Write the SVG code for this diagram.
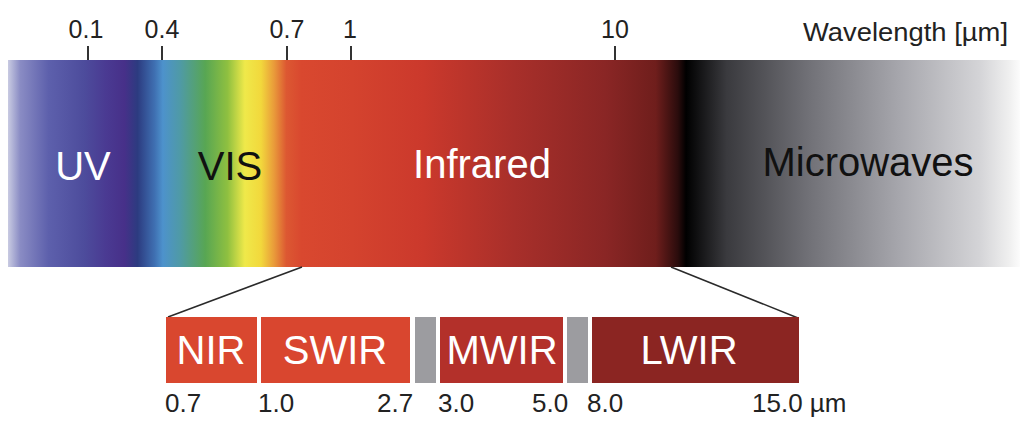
<svg xmlns="http://www.w3.org/2000/svg" width="1024" height="425" viewBox="0 0 1024 425">
  <style>
    .lbl { font-family: "Liberation Sans", Arial, sans-serif; fill: #222; }
    .big { font-family: "Liberation Sans", Arial, sans-serif; font-size: 40px; text-anchor: middle; }
    .tick { stroke: #333; stroke-width: 2; }
    .conn { stroke: #2a2a2a; stroke-width: 1.5; fill: none; }
    .white { fill: #ffffff; }
  </style>
  <defs>
    <linearGradient id="spec" gradientUnits="userSpaceOnUse" x1="8" y1="0" x2="1020" y2="0">
      <stop offset="0" stop-color="#c9cbe2"/>
      <stop offset="0.012" stop-color="#8a8cc4"/>
      <stop offset="0.04" stop-color="#5d60ac"/>
      <stop offset="0.075" stop-color="#4d4c9c"/>
      <stop offset="0.097" stop-color="#4a3a92"/>
      <stop offset="0.115" stop-color="#473089"/>
      <stop offset="0.128" stop-color="#2c3b80"/>
      <stop offset="0.145" stop-color="#3f70b2"/>
      <stop offset="0.153" stop-color="#4d92cc"/>
      <stop offset="0.170" stop-color="#4f9aa6"/>
      <stop offset="0.195" stop-color="#58a653"/>
      <stop offset="0.217" stop-color="#8fc040"/>
      <stop offset="0.234" stop-color="#efe94a"/>
      <stop offset="0.250" stop-color="#f2d83c"/>
      <stop offset="0.263" stop-color="#e99a3a"/>
      <stop offset="0.275" stop-color="#dc5832"/>
      <stop offset="0.290" stop-color="#d9482f"/>
      <stop offset="0.340" stop-color="#d4432e"/>
      <stop offset="0.410" stop-color="#cb392c"/>
      <stop offset="0.500" stop-color="#a82f2a"/>
      <stop offset="0.590" stop-color="#8a2625"/>
      <stop offset="0.640" stop-color="#6f1e1c"/>
      <stop offset="0.662" stop-color="#2a0c0c"/>
      <stop offset="0.670" stop-color="#000000"/>
      <stop offset="0.688" stop-color="#1a1a1c"/>
      <stop offset="0.710" stop-color="#3a3a3e"/>
      <stop offset="0.790" stop-color="#707076"/>
      <stop offset="0.880" stop-color="#a6a6ac"/>
      <stop offset="0.960" stop-color="#d4d4d7"/>
      <stop offset="0.990" stop-color="#f0f0f0"/>
      <stop offset="1" stop-color="#fcfcfc"/>
    </linearGradient>
  </defs>

  <g id="spectrum">
    <rect x="8" y="60" width="1012" height="207" fill="url(#spec)"/>
  </g>

  <g id="axis">
    <line class="tick" x1="88" y1="46" x2="88" y2="60"/>
    <line class="tick" x1="162" y1="46" x2="162" y2="60"/>
    <line class="tick" x1="287" y1="46" x2="287" y2="60"/>
    <line class="tick" x1="351" y1="46" x2="351" y2="60"/>
    <line class="tick" x1="615" y1="46" x2="615" y2="60"/>
    <g class="lbl" font-size="25" text-anchor="middle">
      <text x="86" y="38">0.1</text>
      <text x="162" y="38">0.4</text>
      <text x="287" y="38">0.7</text>
      <text x="350" y="38">1</text>
      <text x="615" y="38">10</text>
    </g>
    <text class="lbl" x="803" y="41" font-size="26" textLength="205" lengthAdjust="spacingAndGlyphs">Wavelength [µm]</text>
  </g>

  <g id="band-labels">
    <text class="big white" x="83" y="180">UV</text>
    <text class="big" x="230" y="180" fill="#111">VIS</text>
    <text class="big white" x="482" y="178">Infrared</text>
    <text class="big" x="868" y="176" fill="#111">Microwaves</text>
  </g>

  <g id="connectors">
    <line class="conn" x1="302" y1="267" x2="168" y2="317"/>
    <line class="conn" x1="671" y1="267" x2="798" y2="318"/>
  </g>

  <g id="NIR">
    <rect x="166" y="317" width="91" height="66" fill="#d9472f"/>
    <text class="big white" x="211" y="364">NIR</text>
  </g>
  <g id="SWIR">
    <rect x="261" y="317" width="149" height="66" fill="#d9462f"/>
    <text class="big white" x="335" y="364">SWIR</text>
  </g>
  <g id="gap1">
    <rect x="415" y="317" width="21" height="66" fill="#9c9ca0"/>
  </g>
  <g id="MWIR">
    <rect x="440" y="317" width="123" height="66" fill="#b3302a"/>
    <text class="big white" x="502" y="364">MWIR</text>
  </g>
  <g id="gap2">
    <rect x="567" y="317" width="21" height="66" fill="#9c9ca0"/>
  </g>
  <g id="LWIR">
    <rect x="592" y="317" width="207" height="66" fill="#8b2522"/>
    <text class="big white" x="689" y="364">LWIR</text>
  </g>

  <g id="bottom-scale" class="lbl" font-size="26">
    <text x="165" y="412">0.7</text>
    <text x="258" y="412">1.0</text>
    <text x="377" y="412">2.7</text>
    <text x="438" y="412">3.0</text>
    <text x="532" y="412">5.0</text>
    <text x="587" y="412">8.0</text>
    <text x="752" y="412">15.0 µm</text>
  </g>
</svg>
